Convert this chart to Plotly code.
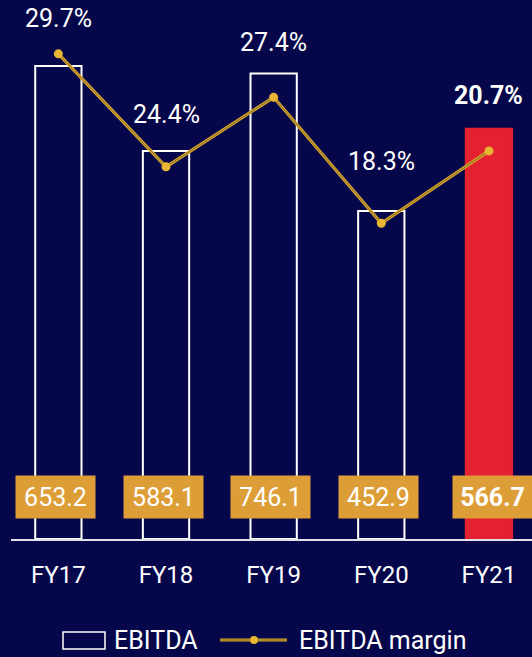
import plotly.graph_objects as go

# data
years = ["FY17", "FY18", "FY19", "FY20", "FY21"]
ebitda = [653.2, 583.1, 746.1, 452.9, 566.7]
margin_pct = [29.7, 24.4, 27.4, 18.3, 20.7]
# the picture draws bars and the margin line schematically, so the drawn
# levels (in EBITDA units) are kept apart from the printed values
bar_level = [653.2, 536.0, 643.0, 452.9, 566.7]
margin_level = [670.0, 514.0, 610.0, 436.0, 536.0]

BG = "#06074a"
GOLD = "#d6a62e"
GOLD_DARK = "#8a6c1f"
BOX = "#dd9e37"
RED = "#e42130"
FONT = "Roboto, 'Noto Sans', sans-serif"

W, H = 532, 657
PLOT_L, PLOT_R, PLOT_T, PLOT_B = 11, 532, 0, 539


def px_x(px):
    return (px - PLOT_L) / (PLOT_R - PLOT_L)


def px_y(py):
    return (PLOT_B - py) / (PLOT_B - PLOT_T)


last = len(years) - 1
fig = go.Figure()

fig.add_trace(go.Bar(
    x=years,
    y=bar_level,
    width=0.43,
    marker=dict(
        color=["rgba(0,0,0,0)"] * last + [RED],
        line=dict(color=["#ffffff"] * last + [RED], width=2),
    ),
    showlegend=False,
    hoverinfo="skip",
))

# margin line: gold stroke with a darker core, plus dots
fig.add_trace(go.Scatter(
    x=years, y=margin_level, mode="lines",
    line=dict(color=GOLD, width=3.2),
    showlegend=False, hoverinfo="skip",
))
fig.add_trace(go.Scatter(
    x=years, y=margin_level, mode="lines+markers",
    line=dict(color=GOLD_DARK, width=1),
    marker=dict(color="#e8b632", size=9),
    showlegend=False, hoverinfo="skip",
))

annotations = []
label_shift = [35, 52, 55, 62, 55]
for i, (yr, m, lvl) in enumerate(zip(years, margin_pct, margin_level)):
    txt = f"{m:.1f}%"
    if i == last:
        txt = f"<b>{txt}</b>"
    annotations.append(dict(
        x=yr, y=lvl, xref="x", yref="y", text=txt, showarrow=False,
        yanchor="middle", yshift=label_shift[i],
        font=dict(family=FONT, size=25, color="#ffffff"),
    ))

box_shift = [-3, -3, -3, -3, 4]
for i, (yr, v) in enumerate(zip(years, ebitda)):
    txt = f"{v:.1f}"
    if i == last:
        txt = f"<b>{txt}</b>"
    annotations.append(dict(
        x=yr, y=px_y(497), xref="x", yref="paper", text=txt, showarrow=False,
        yanchor="middle", xshift=box_shift[i],
        width=79, height=42, borderpad=0, bgcolor=BOX,
        font=dict(family=FONT, size=25, color="#ffffff"),
    ))

# hand-made legend
legend_y = px_y(640)
annotations.append(dict(
    x=px_x(112), y=legend_y, xref="paper", yref="paper", text="EBITDA",
    showarrow=False, xanchor="left", yanchor="middle",
    font=dict(family=FONT, size=25, color="#ffffff"),
))
annotations.append(dict(
    x=px_x(297), y=legend_y, xref="paper", yref="paper", text="EBITDA margin",
    showarrow=False, xanchor="left", yanchor="middle",
    font=dict(family=FONT, size=25, color="#ffffff"),
))
shapes = [
    dict(type="rect", xref="paper", yref="paper",
         x0=px_x(63), x1=px_x(105), y0=px_y(649), y1=px_y(632),
         line=dict(color="#ffffff", width=1.5)),
    dict(type="line", xref="paper", yref="paper",
         x0=px_x(220), x1=px_x(287), y0=legend_y, y1=legend_y,
         line=dict(color=GOLD, width=3.2)),
    dict(type="line", xref="paper", yref="paper",
         x0=px_x(220), x1=px_x(287), y0=legend_y, y1=legend_y,
         line=dict(color=GOLD_DARK, width=1)),
    dict(type="circle", xref="paper", yref="paper",
         x0=px_x(250), x1=px_x(258), y0=px_y(644), y1=px_y(636),
         fillcolor="#e8b632", line=dict(width=0)),
]

fig.update_layout(
    width=W, height=H,
    margin=dict(l=PLOT_L, r=W - PLOT_R, t=PLOT_T, b=H - PLOT_B),
    paper_bgcolor=BG, plot_bgcolor=BG,
    annotations=annotations,
    shapes=shapes,
    showlegend=False,
    xaxis=dict(
        type="category", range=[-0.44, 4.4],
        showgrid=False, zeroline=False,
        showline=True, linecolor="#e0e0ea", linewidth=2,
        ticks="outside", ticklen=13, tickcolor="rgba(0,0,0,0)",
        tickfont=dict(family=FONT, size=24, color="#ffffff"),
    ),
    yaxis=dict(
        range=[0, 744.4], visible=False, showgrid=False, zeroline=False,
    ),
)

fig.write_html(
    "out.html",
    config={"displayModeBar": False},
    post_script="document.body.style.margin='0';"
                "document.body.style.background='" + BG + "';",
)
